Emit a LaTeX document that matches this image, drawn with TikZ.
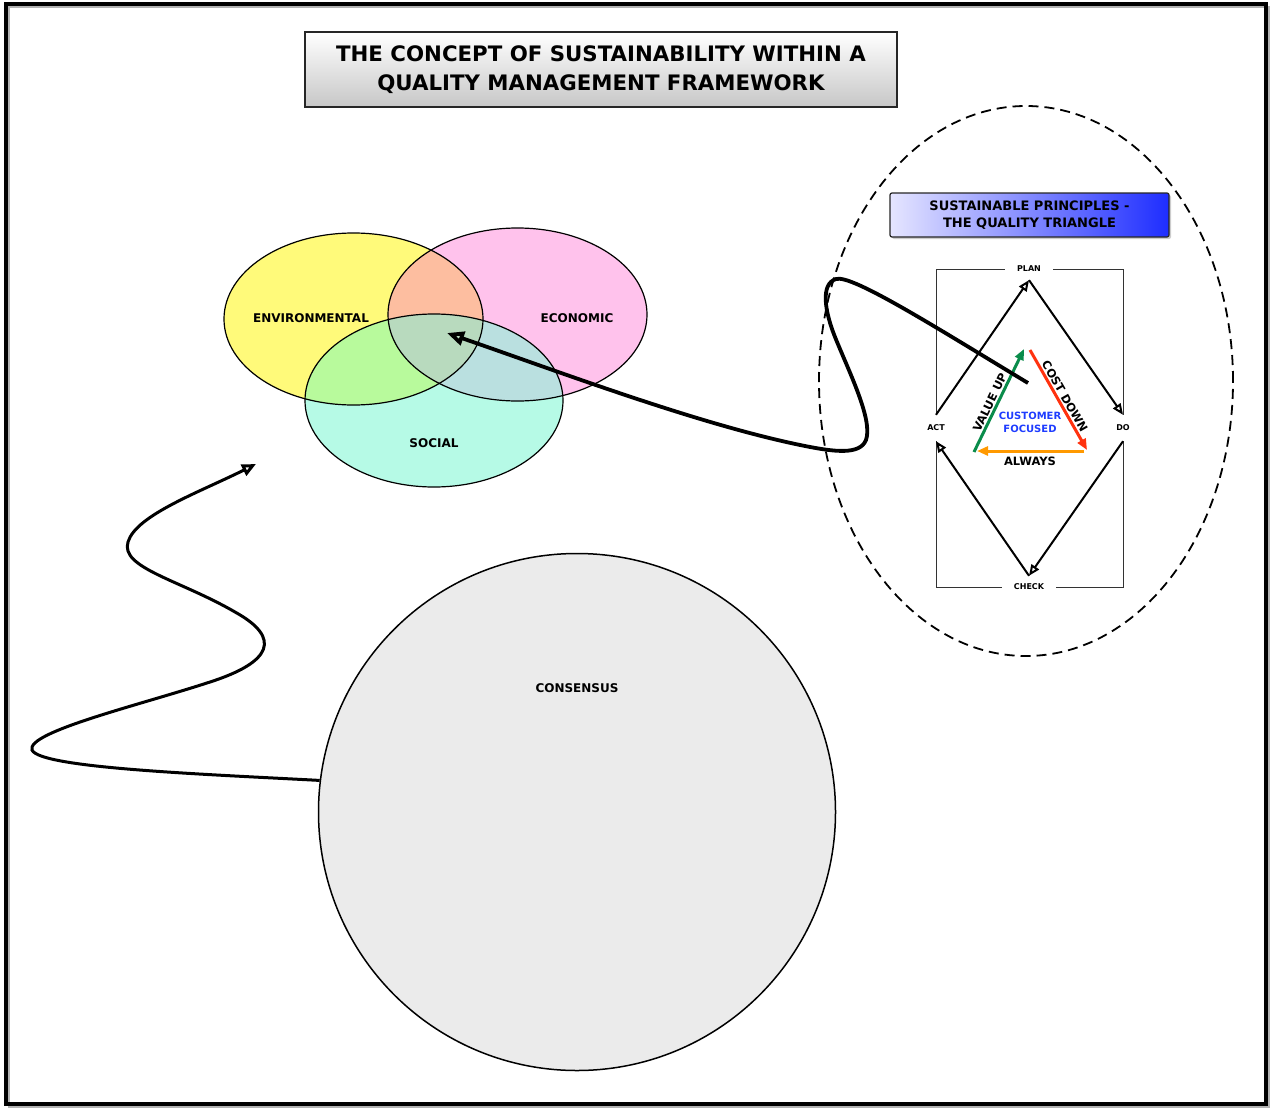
\documentclass[tikz,border=0pt]{standalone}
\usepackage{fontspec}
\setmainfont{DejaVu Sans}
\usetikzlibrary{arrows.meta,shapes.geometric,shadows}
\definecolor{envc}{RGB}{255,250,122}
\definecolor{ecoc}{RGB}{255,194,236}
\definecolor{socc}{RGB}{182,250,230}
\definecolor{enveco}{RGB}{253,190,160}
\definecolor{envsoc}{RGB}{184,250,156}
\definecolor{ecosoc}{RGB}{186,224,224}
\definecolor{allc}{RGB}{184,218,190}
\definecolor{consc}{RGB}{235,235,235}
\definecolor{vgreen}{RGB}{10,140,75}
\definecolor{cred}{RGB}{255,50,15}
\definecolor{aorange}{RGB}{255,153,0}
\definecolor{cblue}{RGB}{30,60,255}
\definecolor{boxblue}{RGB}{30,45,255}
\tikzset{
  titlebox/.style={draw=black!85, line width=1.5pt, top color=white, bottom color=black!22,
    minimum width=592pt, minimum height=75pt, align=center, font=\bfseries\fontsize{21.3}{29}\selectfont},
  subbox/.style={draw=black!85, line width=1.2pt, rounded corners=2pt, left color=white!90!blue, right color=boxblue,
    minimum width=279pt, minimum height=44pt, align=center, font=\bfseries\fontsize{13}{17}\selectfont,
    drop shadow={shadow xshift=2pt, shadow yshift=-2pt, opacity=0.4}},
  vlabel/.style={font=\bfseries\fontsize{12}{14}\selectfont},
  pdlabel/.style={fill=white, font=\bfseries\fontsize{8}{9}\selectfont, inner xsep=12pt, inner ysep=8pt},
  pdarrow/.style={line width=2pt, -{Triangle[open, length=11pt, width=9pt]}},
  triarrow/.style={line width=3pt, -{Triangle[length=11pt, width=9pt]}},
  trilabel/.style={font=\bfseries\fontsize{11.5}{13}\selectfont},
  bigarrow/.style={line width=3.8pt, -{Triangle[open, length=17pt, width=14pt]}},
  wavyarrow/.style={line width=3pt, -{Triangle[open, length=14pt, width=12pt]}},
}
\begin{document}
\begin{tikzpicture}[x=1pt,y=-1pt]
\useasboundingbox (0,0) rectangle (1271,1108);
% outer frame
\draw[black!30, line width=2pt] (9,7) rectangle (1269,1107);
\draw[line width=3.8pt] (6,4) rectangle (1266,1104);

% title
\node[titlebox] (title) at (601,69.5) {THE CONCEPT OF SUSTAINABILITY WITHIN A\\QUALITY MANAGEMENT FRAMEWORK};

% Venn diagram
\fill[envc] (353.5,319) ellipse[x radius=129.5, y radius=86];
\fill[ecoc] (517.5,314.5) ellipse[x radius=129.5, y radius=86.5];
\fill[socc] (434,400.5) ellipse[x radius=129, y radius=86.5];
\begin{scope}
  \clip (353.5,319) ellipse[x radius=129.5, y radius=86];
  \fill[enveco] (517.5,314.5) ellipse[x radius=129.5, y radius=86.5];
  \fill[envsoc] (434,400.5) ellipse[x radius=129, y radius=86.5];
\end{scope}
\begin{scope}
  \clip (517.5,314.5) ellipse[x radius=129.5, y radius=86.5];
  \fill[ecosoc] (434,400.5) ellipse[x radius=129, y radius=86.5];
  \clip (353.5,319) ellipse[x radius=129.5, y radius=86];
  \fill[allc] (434,400.5) ellipse[x radius=129, y radius=86.5];
\end{scope}
\node[ellipse, draw, line width=1.2pt, minimum width=259pt, minimum height=172pt, inner sep=0pt] (env) at (353.5,319) {};
\node[ellipse, draw, line width=1.2pt, minimum width=259pt, minimum height=173pt, inner sep=0pt] (eco) at (517.5,314.5) {};
\node[ellipse, draw, line width=1.2pt, minimum width=258pt, minimum height=173pt, inner sep=0pt] (soc) at (434,400.5) {};
\node[vlabel] (envlabel) at (311,318) {ENVIRONMENTAL};
\node[vlabel] (ecolabel) at (577,318) {ECONOMIC};
\node[vlabel] (soclabel) at (434,443) {SOCIAL};
\coordinate (venn) at (447,333);

% consensus
\node[circle, draw, line width=1.5pt, fill=consc, minimum size=517pt, inner sep=0pt] (cons) at (577,812) {};
\node[vlabel] (conslabel) at (577,688) {CONSENSUS};

% right: dashed ellipse
\node[ellipse, draw, dashed, dash pattern=on 10pt off 6pt, line width=1.8pt, minimum width=414pt, minimum height=550pt, inner sep=0pt] (dash) at (1026,381) {};
\node[subbox] (sub) at (1029.5,215) {SUSTAINABLE PRINCIPLES -\\THE QUALITY TRIANGLE};

% PDCA frame
\draw[line width=1pt, black!80] (936,269) rectangle (1123,587);
\node[pdlabel] (plan) at (1029,269) {PLAN};
\node[pdlabel, inner xsep=5pt, inner ysep=10pt] (act) at (936,428) {ACT};
\node[pdlabel, inner xsep=5pt, inner ysep=10pt] (do) at (1123,428) {DO};
\node[pdlabel] (check) at (1029,587) {CHECK};
\draw[pdarrow] (act.north) -- (plan.south);
\draw[pdarrow] (plan.south) -- (do.north);
\draw[pdarrow] (do.south) -- (check.north);
\draw[pdarrow] (check.north) -- (act.south);

% quality triangle
\coordinate (tL) at (974,452);
\coordinate (tA) at (1024,349);
\coordinate (tT) at (1030,350);
\coordinate (tR) at (1087,450);
\coordinate (tRb) at (1084,451);
\coordinate (tLb) at (977,451);
\draw[triarrow, vgreen] (tL) -- node[sloped, above, trilabel, text=black, inner sep=1.5pt, pos=0.45] (vup) {VALUE UP} (tA);
\draw[triarrow, cred] (tT) -- node[sloped, above, trilabel, text=black, inner sep=1.5pt, pos=0.5] (cdown) {COST DOWN} (tR);
\draw[triarrow, aorange] (tRb) -- (tLb);
\node[trilabel] (always) at (1030,461) {ALWAYS};
\node[trilabel, text=cblue, align=center, font=\bfseries\fontsize{10}{13}\selectfont] (cust) at (1030,422) {CUSTOMER\\FOCUSED};

% big curved arrow from triangle to venn
\coordinate (tri) at (1028,383);
\draw[bigarrow] (tri) .. controls (940,330) and (852,274) .. (836,279)
  .. controls (820,284) and (825,312) .. (835,337)
  .. controls (850,374) and (873,420) .. (866,440)
  .. controls (860,455) and (835,452) .. (805,446)
  .. controls (700,425) and (560,372) .. (venn);

% wavy arrow from consensus
\coordinate (wtip) at (256,464);
\draw[wavyarrow] (cons.173) .. controls (200,774) and (40,768) .. (32,750)
  .. controls (26,732) and (140,705) .. (210,682)
  .. controls (272,662) and (282,638) .. (235,612)
  .. controls (180,580) and (120,568) .. (128,542)
  .. controls (136,515) and (200,492) .. (wtip);
\end{tikzpicture}
\end{document}
